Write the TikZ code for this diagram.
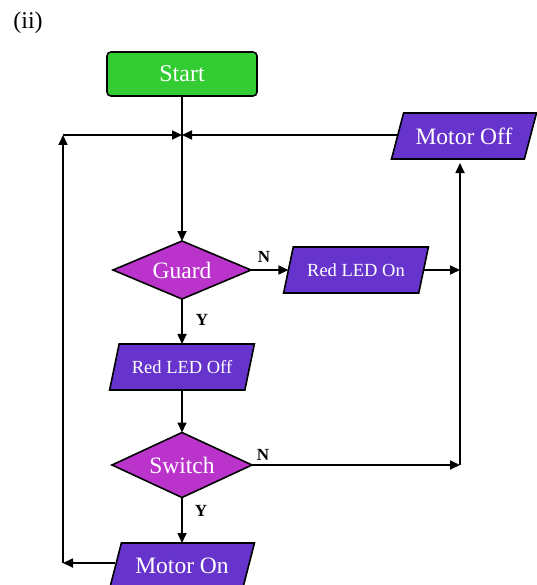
\documentclass[tikz,border=0pt]{standalone}
\usepackage{fontspec}
\setmainfont{Liberation Serif}
\usetikzlibrary{shapes.geometric,arrows.meta}
\definecolor{startgreen}{RGB}{51,204,51}
\definecolor{decmag}{RGB}{186,52,204}
\definecolor{iopurple}{RGB}{102,51,204}
\begin{document}
\begin{tikzpicture}[x=1pt,y=-1pt,
 every node/.style={inner sep=0pt, outer sep=0pt},
 startbox/.style={draw=black, line width=1.6pt, rounded corners=4pt, fill=startgreen, minimum width=150pt, minimum height=44pt, text=white, font=\fontsize{24}{24}\selectfont},
 decision/.style={diamond, shape aspect=2.4, draw=black, line width=1.6pt, fill=decmag, text=white, font=\fontsize{23.5}{24}\selectfont},
 io/.style={trapezium, trapezium left angle=60, trapezium right angle=120, trapezium stretches=true, draw=black, line width=1.6pt, fill=iopurple, minimum width=145pt, minimum height=46pt, text=white, font=\fontsize{23.5}{24}\selectfont},
 iosmall/.style={io, font=\fontsize{18.5}{19}\selectfont},
 arr/.style={line width=1.7pt, -{Triangle[length=10pt,width=9pt]}},
 lbl/.style={font=\bfseries\fontsize{17}{17}\selectfont}
]
\useasboundingbox (0,0) rectangle (536,585);
\node[font=\fontsize{24}{24}\selectfont] (title) at (28,23) {(ii)};

\node[startbox] (start) at (182,74) {Start};
\node[io] (motoroff) at (464,136) {Motor Off};
\node[decision, minimum width=138pt, minimum height=58pt] (guard) at (182,270) {Guard};
\node[iosmall] (redon) at (356,270) {Red LED On};
\node[iosmall] (redoff) at (182,367) {Red LED Off};
\node[decision, minimum width=140pt, minimum height=65pt] (switch) at (182,465) {Switch};
\node[io] (motoron) at (182,566) {Motor On};

\node[lbl] (nguard) at (264,257) {N};
\node[lbl] (yguard) at (202,320) {Y};
\node[lbl] (nswitch) at (263,455) {N};
\node[lbl] (yswitch) at (201,511) {Y};

\coordinate (j) at (182,135);
\coordinate (lt) at (63,135);
\coordinate (lb) at (63,563);
\coordinate (rm) at (460,270);
\coordinate (rb) at (460,465);

\draw[arr] (start.south) -- (guard.north);
\draw[arr] (motoron.west |- lb) -- (lb);
\draw[arr] (lb) -- (lt);
\draw[arr] (lt) -- (j);
\draw[arr] (motoroff.west |- j) -- (j);
\draw[arr] (guard.south) -- (redoff.north);
\draw[arr] (redoff.south) -- (switch.north);
\draw[arr] (switch.south) -- (motoron.north);
\draw[arr] (guard.east) -- (redon.west);
\draw[arr] (redon.east) -- (rm);
\draw[arr] (switch.east) -- (rb);
\draw[arr, shorten >=4pt] (rb) -- (motoroff.south -| rb);
\end{tikzpicture}
\end{document}
